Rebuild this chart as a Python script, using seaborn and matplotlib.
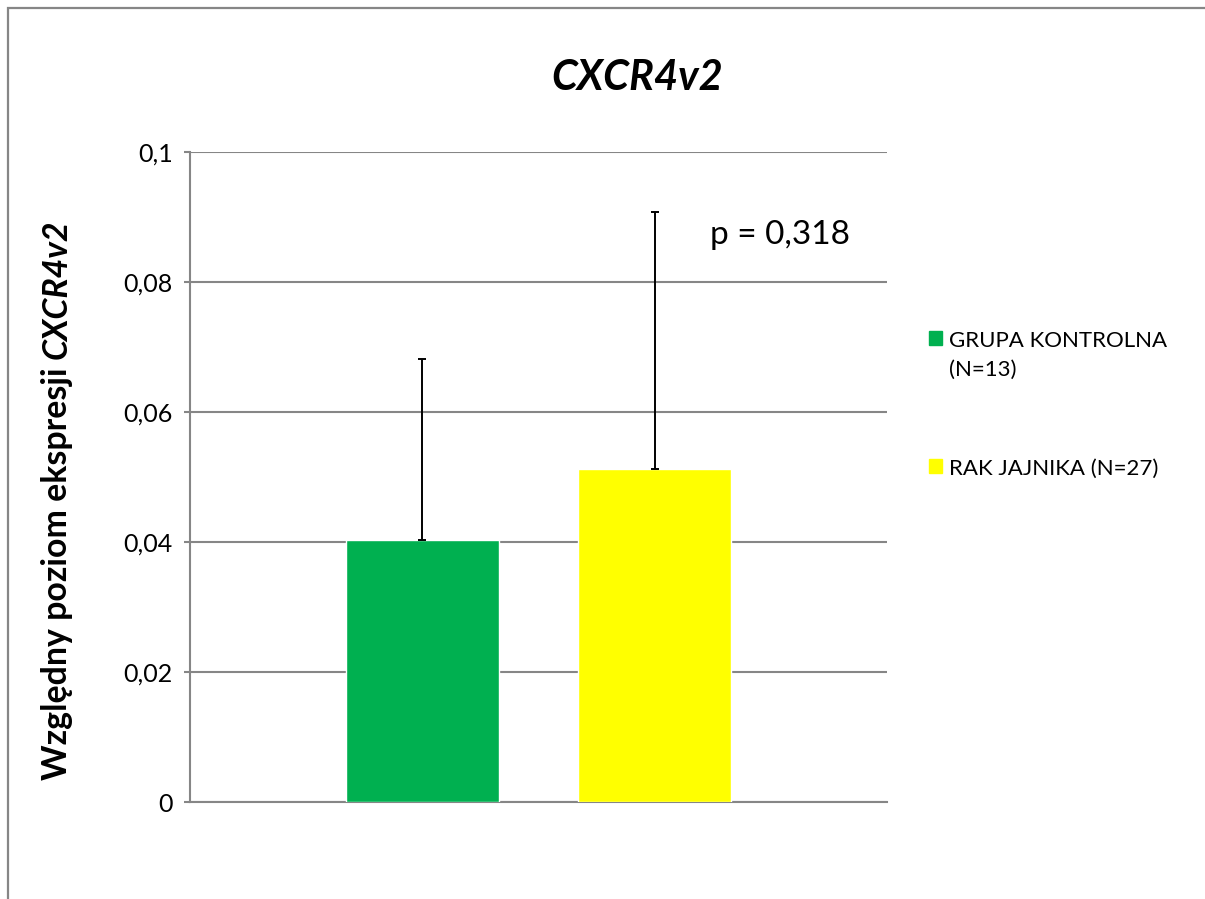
import matplotlib
matplotlib.use("Agg")
import matplotlib.pyplot as plt
import matplotlib.patches as mpatches
import seaborn as sns

# values
groups = ["GRUPA KONTROLNA\n(N=13)", "RAK JAJNIKA (N=27)"]
means = [0.0403, 0.0512]
err_up = [0.0279, 0.0396]
colors = ["#00B050", "#FFFF00"]
yticks = [0, 0.02, 0.04, 0.06, 0.08, 0.1]
ytick_labels = ["0", "0,02", "0,04", "0,06", "0,08", "0,1"]
title = "CXCR4v2"
p_text = "p = 0,318"

sns.set_style("white")
plt.rcParams["font.family"] = ["Lato", "DejaVu Sans"]
plt.rcParams["text.color"] = "black"
plt.rcParams["ytick.labelcolor"] = "black"
grey = "#868686"

fig = plt.figure(figsize=(12.05, 8.99), dpi=100)
ax = fig.add_axes([190 / 1205, 97 / 899, 697 / 1205, 650 / 899])

sns.barplot(x=groups, y=means, hue=groups, palette=colors, width=0.66,
            saturation=1, legend=False, ax=ax, zorder=3)
ax.errorbar(range(len(groups)), means, yerr=[[0] * len(groups), err_up],
            fmt="none", ecolor="black", elinewidth=1.4, capsize=3,
            capthick=1.4, zorder=4)

ax.set_xlim(-1, 2)
ax.set_ylim(0, 0.1)
ax.set_yticks(yticks)
ax.set_yticklabels(ytick_labels, fontsize=18)
ax.set_xticks([])
ax.set_xlabel("")
ax.set_ylabel("")
ax.yaxis.grid(True, color=grey, linewidth=1.5)
ax.set_axisbelow(True)
for s in ["top", "right"]:
    ax.spines[s].set_visible(False)
for s in ["left", "bottom"]:
    ax.spines[s].set_color(grey)
    ax.spines[s].set_linewidth(1.5)
ax.tick_params(axis="y", direction="out", length=4, width=1.5, color=grey,
               pad=8.5, left=True)

ax.text(1.24, 0.0872, p_text, fontsize=24, ha="left", va="center")

fig.text(637 / 1205, 1 - 78 / 899, title, fontsize=30, fontweight="bold",
         fontstyle="italic", ha="center", va="center")

# y label: plain bold part + bold italic gene name
t1 = fig.text(67 / 1205, 1 - 780 / 899, "Względny poziom ekspresji ",
              rotation=90, rotation_mode="anchor", ha="left", va="baseline",
              fontsize=24.4, fontweight="bold")
fig.canvas.draw()
h = t1.get_window_extent().height
fig.text(67 / 1205, 1 - 780 / 899 + h / 899, "CXCR4v2", rotation=90,
         rotation_mode="anchor", ha="left", va="baseline", fontsize=24.4,
         fontweight="bold", fontstyle="italic")

handles = [mpatches.Patch(color=c) for c in colors]
leg = fig.legend(handles, groups, loc="upper left",
                 bbox_to_anchor=(918 / 1205, 1 - 320 / 899), frameon=False,
                 fontsize=16, handlelength=0.6, handleheight=0.6,
                 handletextpad=0.3, labelspacing=3.55, borderpad=0)
for t in leg.get_texts():
    t.set_linespacing(1.55)
# put the colour square next to the first line of a two-line label
for col in leg._legend_handle_box.get_children():
    for entry in col.get_children():
        entry.align = "top"

# chart area border (Excel style)
fig.patches.append(mpatches.Rectangle((8 / 1205, -0.1), 1.2, 1.1 - 9 / 899 + 0.001,
                                      transform=fig.transFigure, fill=False,
                                      edgecolor=grey, linewidth=1.6))

fig.savefig("out.png", dpi=100)
